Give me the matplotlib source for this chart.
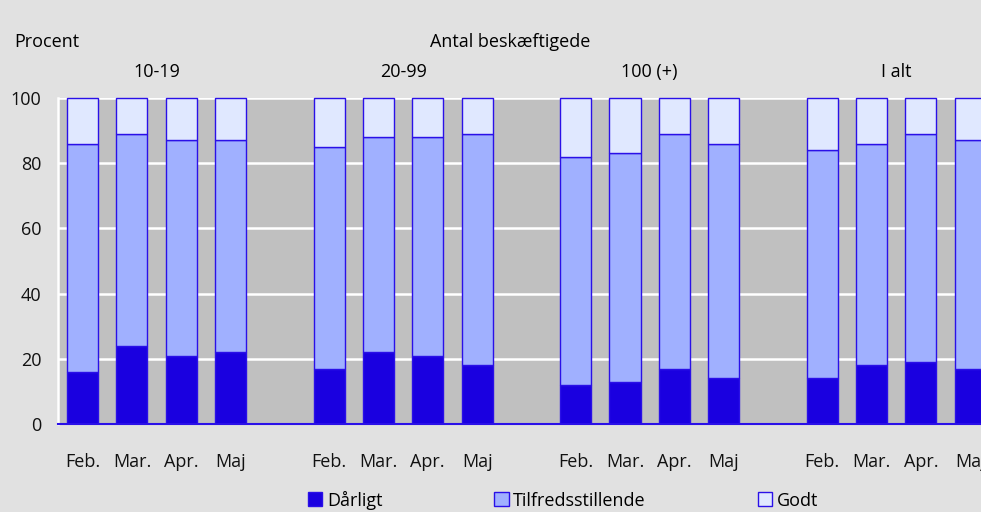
import numpy as np
import matplotlib
matplotlib.use("Agg")
from matplotlib import pyplot as plt
from matplotlib.patches import Patch
from matplotlib.transforms import blended_transform_factory

plt.rcParams['font.family'] = ['Open Sans', 'DejaVu Sans']

groups = ["10-19", "20-99", "100 (+)", "I alt"]
months = ["Feb.", "Mar.", "Apr.", "Maj"]

darligt = [16, 24, 21, 22, 17, 22, 21, 18, 12, 13, 17, 14, 14, 18, 19, 17]
tilfreds = [70, 65, 66, 65, 68, 66, 67, 71, 70, 70, 72, 72, 70, 68, 70, 70]
godt = [14, 11, 13, 13, 15, 12, 12, 11, 18, 17, 11, 14, 16, 14, 11, 13]

c_dark = "#1a00e0"
c_mid = "#a0b0ff"
c_light = "#e0e8ff"
c_edge = "#2a10e8"

# bar positions: 4 per group, one empty slot between groups
pos = np.array([g * 5 + m for g in range(4) for m in range(4)])
darligt = np.array(darligt)
tilfreds = np.array(tilfreds)
godt = np.array(godt)

fig = plt.figure(figsize=(9.81, 5.12), dpi=100, facecolor="#e1e1e1")
ax = fig.add_axes([58 / 981, 1 - 424 / 512, 1 - 58 / 981, (424 - 98) / 512])
ax.set_facecolor("#c0c0c0")

w = 0.63
ax.bar(pos, darligt, w, color=c_dark, edgecolor=c_edge, linewidth=1, zorder=3)
ax.bar(pos, tilfreds, w, bottom=darligt, color=c_mid, edgecolor=c_edge, linewidth=1, zorder=3)
ax.bar(pos, godt, w, bottom=darligt + tilfreds, color=c_light, edgecolor=c_edge,
       linewidth=1, zorder=3, clip_on=False)

ax.set_xlim(-0.5, 18.22)
ax.set_ylim(0, 100)
ax.set_yticks(range(0, 101, 20))
ax.yaxis.grid(True, color="white", linewidth=1.8, zorder=1)
ax.set_axisbelow(True)
ax.set_xticks(pos)
ax.set_xticklabels(months * 4)
ax.tick_params(axis="both", length=0, labelsize=13, colors="#111111")
ax.tick_params(axis="y", pad=12)
ax.tick_params(axis="x", pad=21)

for s in ["top", "right"]:
    ax.spines[s].set_visible(False)
ax.spines["left"].set_color("white")
ax.spines["left"].set_linewidth(1.8)
ax.spines["bottom"].set_color(c_edge)
ax.spines["bottom"].set_linewidth(1.5)
ax.spines["bottom"].set_zorder(4)

tr = blended_transform_factory(ax.transData, fig.transFigure)
for i, g in enumerate(groups):
    ax.text(i * 5 + 1.5, 1 - 72 / 512, g, transform=tr, ha="center", va="center", fontsize=13)

fig.text(14 / 981, 1 - 42 / 512, "Procent", ha="left", va="center", fontsize=13)
fig.text(510 / 981, 1 - 42 / 512, "Antal beskæftigede", ha="center", va="center", fontsize=13)

handles = [Patch(facecolor=c, edgecolor=c_edge) for c in [c_dark, c_mid, c_light]]
fig.legend(handles, ["Dårligt", "Tilfredsstillende", "Godt"], ncol=3, frameon=False,
           loc="center", bbox_to_anchor=(563 / 981, 1 - 500 / 512), fontsize=13,
           handlelength=0.8, handleheight=0.8, handletextpad=0.25, columnspacing=6.2,
           borderpad=0)

fig.savefig("out.png", dpi=100, facecolor=fig.get_facecolor())
